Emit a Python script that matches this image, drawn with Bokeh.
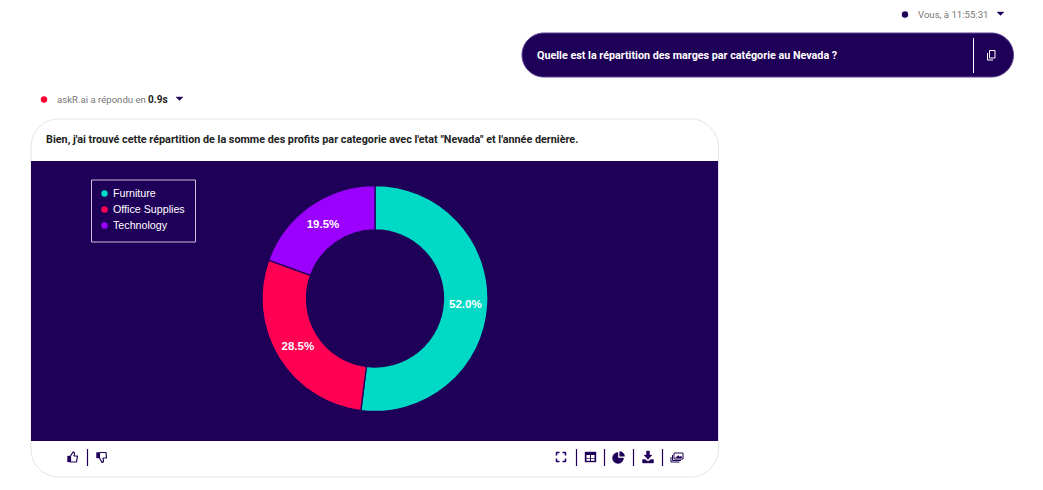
import numpy as np
from bokeh.plotting import figure
from bokeh.models import Range1d, Legend, LegendItem
from bokeh.core.properties import value
from bokeh.embed import file_html
from bokeh.resources import INLINE

categories = ["Furniture", "Office Supplies", "Technology"]
shares = [52.0, 28.5, 19.5]
colors = ["#00d9c5", "#ff0052", "#9b00ff"]

DARK = "#1f0059"
FW, H = 1027, 482
CX, CY, R_OUT, R_IN, R_LAB = 375, 298.5, 113, 68.5, 90.5

def Y(py):
    return H - py

p = figure(width=FW, height=H, output_backend="svg", toolbar_location=None,
           x_range=Range1d(0.5, FW + 0.5), y_range=Range1d(-0.5, H - 0.5),
           min_border=0, outline_line_color=None, background_fill_color="white",
           border_fill_color="white", x_axis_type=None, y_axis_type=None)
p.grid.visible = False


def rrect(x0, y0, x1, y1, r, n=24):
    t = np.linspace(0, np.pi / 2, n)
    xs, ys = [], []
    for cx, cy, a in [(x1 - r, y0 + r, -np.pi / 2), (x1 - r, y1 - r, 0),
                      (x0 + r, y1 - r, np.pi / 2), (x0 + r, y0 + r, np.pi)]:
        xs += list(cx + r * np.cos(t + a))
        ys += list(cy + r * np.sin(t + a))
    return xs, [Y(v) for v in ys]


def shape(pts, color=DARK, fill=True, lw=1.2):
    xs = [q[0] for q in pts]
    ys = [Y(q[1]) for q in pts]
    if fill:
        p.patch(xs, ys, fill_color=color, line_color=color, line_width=0.4)
    else:
        p.line(xs, ys, line_color=color, line_width=lw)


def seg(x0, y0, x1, y1, color=DARK, lw=1.2):
    p.line([x0, x1], [Y(y0), Y(y1)], line_color=color, line_width=lw)


def dot(x, y, r, color):
    p.circle([x], [Y(y)], radius=r, fill_color=color, line_color=None)


def txt(x, y, s, size, color="#222222", font="Roboto", style="normal", align="left"):
    p.text([x], [Y(y)], text=[s], text_font=value(font), text_font_size=f"{size}px",
           text_font_style=style, text_color=color, text_align=align, text_baseline="middle")


# ---- header ----
dot(905, 14.5, 3.2, DARK)
txt(918, 14, "Vous, à 11:55:31", 9.6, "#777777")
shape([(997, 12), (1004, 12), (1000.5, 15.5)])

xs, ys = rrect(522, 33, 1013.5, 77, 22)
p.patch(xs, ys, fill_color=DARK, line_color="#5a4390", line_width=1)
txt(537, 55, "Quelle est la répartition des marges par catégorie au Nevada ?", 10.75, "white", style="bold")
seg(973.5, 38, 973.5, 73, "white", 1)
shape([(989.5, 50.5), (995, 50.5), (995, 58), (989.5, 58), (989.5, 50.5)], "white", False, 1)
shape([(987.5, 53), (987.5, 60), (993, 60)], "white", False, 1)

dot(44, 99.5, 3.2, "#ff0033")
txt(57, 99, "askR.ai a répondu en", 9.6, "#777777")
txt(148, 99, "0.9s", 10, "#222222", style="bold")
shape([(176, 97), (183, 97), (179.5, 100.5)])

# ---- card ----
xs, ys = rrect(31, 119, 718.5, 477, 28)
p.patch(xs, ys, fill_color="white", line_color="#e2e2e2", line_width=1)
p.quad(left=[31], right=[718], top=[Y(161)], bottom=[Y(441)], fill_color=DARK, line_color=None)
txt(46, 139.5, "Bien, j'ai trouvé cette répartition de la somme des profits par categorie avec l'etat \"Nevada\" et l'année dernière.",
    10.8, "#222222", style="bold")

# ---- donut ----
frac = np.array(shares) / sum(shares)
ends = np.cumsum(frac)
starts = ends - frac
to_angle = lambda f: np.pi / 2 - 2 * np.pi * f
p.annular_wedge(x=CX, y=Y(CY), inner_radius=R_IN, outer_radius=R_OUT,
                start_angle=to_angle(ends), end_angle=to_angle(starts),
                fill_color=colors, line_color=DARK, line_width=1.3)
mids = to_angle((starts + ends) / 2)
p.text(CX + R_LAB * np.cos(mids), Y(CY) + R_LAB * np.sin(mids),
       text=[f"{v:.1f}%" for v in shares], text_color="white", text_align="center",
       text_baseline="middle", text_font=value("Liberation Sans"), text_font_size="11.5px",
       text_font_style="bold")

# ---- legend ----
p.quad(left=[91.5], right=[195.5], top=[Y(180)], bottom=[Y(242)], fill_color=DARK,
       line_color="#c9c0dc", line_width=1)
items = []
for c, col in zip(categories, colors):
    r = p.scatter([np.nan], [np.nan], size=8, marker="circle", fill_color=col, line_color=None)
    items.append(LegendItem(label=c, renderers=[r]))
legend = Legend(items=items, location=(96, H - 233), orientation="vertical",
                background_fill_alpha=0, border_line_color=None,
                label_text_color="white", label_text_font="Liberation Sans",
                label_text_font_size="10.7px", label_standoff=1, glyph_width=16, glyph_height=16,
                spacing=0, padding=0, margin=0, label_height=12)
p.add_layout(legend, "center")

# ---- footer icons ----
# thumb up
shape([(67.5, 456), (70, 456), (70, 462), (67.5, 462)])
shape([(70.5, 456), (73, 452), (73.5, 452), (74.5, 453), (74, 456), (77.5, 456), (76.5, 462), (70.5, 462), (70.5, 456)], DARK, False, 1.2)
seg(87.5, 449, 87.5, 466, DARK, 1.2)
# thumb down
shape([(96.5, 452.5), (99, 452.5), (99, 458), (96.5, 458)])
shape([(99.5, 452.5), (106, 452.5), (106.5, 458), (103, 458), (103.5, 461.5), (102.5, 462.5), (102, 462.5), (99.5, 458), (99.5, 452.5)], DARK, False, 1.2)
# fullscreen
for sx, sy in [(-1, -1), (1, -1), (-1, 1), (1, 1)]:
    shape([(561 + sx * 4.5, 457 + sy * 1.5), (561 + sx * 4.5, 457 + sy * 4.5), (561 + sx * 1.5, 457 + sy * 4.5)], DARK, False, 1.5)
seg(576.5, 449, 576.5, 466, DARK, 1.2)
# table
shape([(585, 452), (596, 452), (596, 462), (585, 462)])
for a, b, c, d in [(586.5, 455, 590, 458), (591, 455, 594.5, 458), (586.5, 458.7, 590, 460.8), (591, 458.7, 594.5, 460.8)]:
    p.quad(left=[a], right=[c], top=[Y(b)], bottom=[Y(d)], fill_color="white", line_color=None)
seg(604.5, 449, 604.5, 466, DARK, 1.2)
# pie
t = np.radians(np.linspace(0, 270, 30))
shape([(618, 458)] + [(618 + 5.5 * np.cos(a), 458 + 5.5 * np.sin(a)) for a in t])
t2 = np.radians(np.linspace(-90, 0, 12))
shape([(619.7, 456.3)] + [(619.7 + 4.8 * np.cos(a), 456.3 + 4.8 * np.sin(a)) for a in t2])
seg(633.5, 449, 633.5, 466, DARK, 1.2)
# download
shape([(646.5, 451), (649.5, 451), (649.5, 455), (652, 455), (648, 459.5), (644, 455), (646.5, 455)])
shape([(642.5, 459.5), (645, 459.5), (648, 461.5), (651, 459.5), (653.5, 459.5), (653.5, 463), (642.5, 463)])
seg(662.5, 449, 662.5, 466, DARK, 1.2)
# images
shape([(674, 453), (683, 453), (683, 459), (674, 459), (674, 453)], "#1f0059", False, 1)
shape([(675.5, 458), (678, 455.5), (680, 457), (681, 456), (682, 458)])
shape([(672.5, 455), (672.5, 460.5), (681, 460.5)], DARK, False, 1)
shape([(671, 457), (671, 462), (679.5, 462)], DARK, False, 1)

open("out.html", "w").write(file_html(p, INLINE))
